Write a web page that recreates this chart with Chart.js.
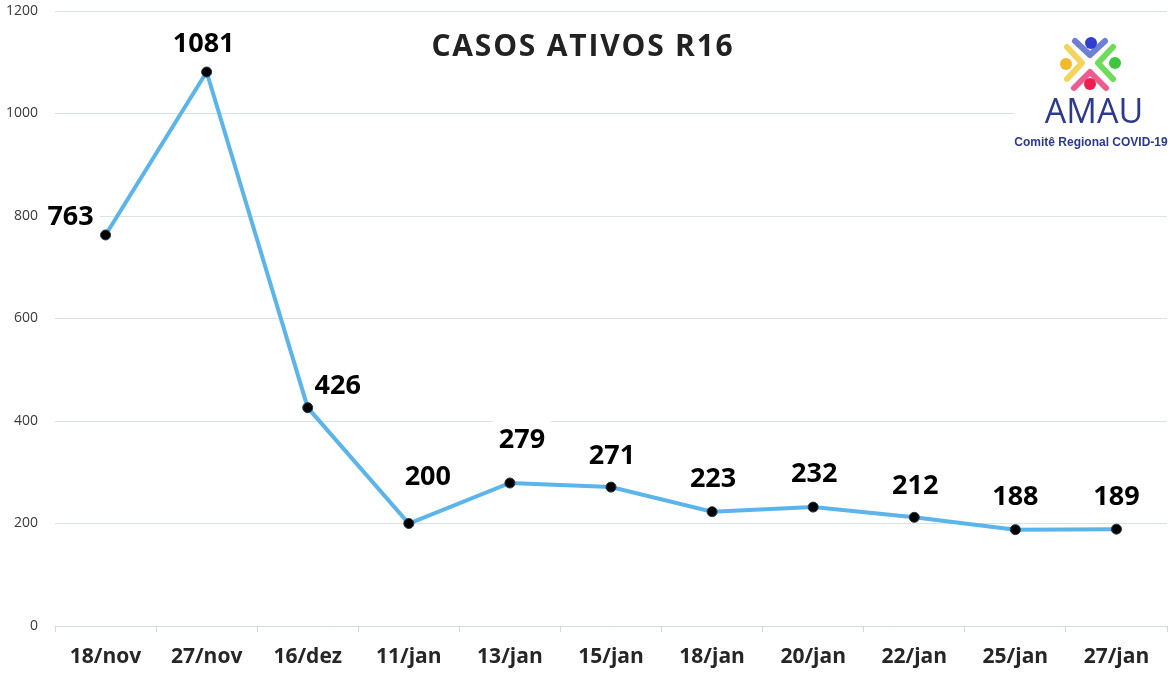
<!DOCTYPE html>
<html>
<head>
<meta charset="utf-8">
<script src="https://cdn.jsdelivr.net/npm/chart.js@4"></script>
<style>
  html, body { margin: 0; padding: 0; background: #fff; }
  #wrap { width: 1176px; height: 676px; }
</style>
</head>
<body>
<div id="wrap"><canvas id="myChart" width="1176" height="676"></canvas></div>
<script>
'use strict';

// data
var categories = ['18/nov', '27/nov', '16/dez', '11/jan', '13/jan', '15/jan', '18/jan', '20/jan', '22/jan', '25/jan', '27/jan'];
var activeCases = [763, 1081, 426, 200, 279, 271, 223, 232, 212, 188, 189];
var yTicks = [0, 200, 400, 600, 800, 1000, 1200];

// where each value label sits relative to its point (dx, dy in px)
var labelOffsets = [
  [-35, -18], [-3, -28], [30, -21], [19, -46], [12, -43], [1, -31],
  [1, -32], [1, -33], [1, -31], [0, -32], [0, -32]
];

var FONT = '"Open Sans", "DejaVu Sans", sans-serif';

// white boxes behind labels (they hide the gridlines like in excel)
var labelBoxes = {
  id: 'labelBoxes',
  beforeDatasetsDraw: function(chart) {
    var ctx = chart.ctx;
    var meta = chart.getDatasetMeta(0);
    ctx.save();
    ctx.font = 'bold 27px ' + FONT;
    ctx.fillStyle = '#ffffff';
    meta.data.forEach(function(pt, i) {
      var x = pt.x + labelOffsets[i][0];
      var y = pt.y + labelOffsets[i][1];
      var w = ctx.measureText(String(activeCases[i])).width;
      ctx.fillRect(x - w / 2 - 6, y - 20, w + 12, 40);
    });
    ctx.restore();
  }
};

// value labels, title and logo
var overlay = {
  id: 'overlay',
  afterDraw: function(chart) {
    var ctx = chart.ctx;
    var meta = chart.getDatasetMeta(0);
    ctx.save();
    ctx.textAlign = 'center';
    ctx.textBaseline = 'middle';
    ctx.font = 'bold 27px ' + FONT;
    ctx.fillStyle = '#000000';
    meta.data.forEach(function(pt, i) {
      ctx.fillText(String(activeCases[i]), pt.x + labelOffsets[i][0], pt.y + labelOffsets[i][1]);
    });

    // title
    ctx.font = 'bold 30px ' + FONT;
    ctx.letterSpacing = '1.8px';
    ctx.fillStyle = '#222222';
    ctx.fillText('CASOS ATIVOS R16', 583, 47);
    ctx.letterSpacing = '0px';

    // logo
    ctx.fillStyle = '#ffffff';
    ctx.fillRect(1014, 28, 162, 125);
    drawLogo(ctx);
    ctx.restore();
  }
};

function chevron(ctx, pts, color) {
  ctx.strokeStyle = color;
  ctx.lineWidth = 6;
  ctx.lineCap = 'round';
  ctx.lineJoin = 'round';
  ctx.beginPath();
  ctx.moveTo(pts[0], pts[1]);
  ctx.lineTo(pts[2], pts[3]);
  ctx.lineTo(pts[4], pts[5]);
  ctx.stroke();
}

function dot(ctx, x, y, r, color) {
  ctx.fillStyle = color;
  ctx.beginPath();
  ctx.arc(x, y, r, 0, Math.PI * 2);
  ctx.fill();
}

function drawLogo(ctx) {
  chevron(ctx, [1075, 41, 1090, 55, 1105, 41], '#6f7fd6');
  chevron(ctx, [1113, 47, 1098, 63, 1113, 79], '#6edc5a');
  chevron(ctx, [1074, 88, 1090, 72, 1106, 88], '#ee5b8e');
  chevron(ctx, [1067, 47, 1082, 63, 1067, 79], '#f4d45a');
  dot(ctx, 1091, 43, 6, '#2f3fd0');
  dot(ctx, 1115, 63, 6, '#3cc83c');
  dot(ctx, 1090, 84, 6, '#ec1f4f');
  dot(ctx, 1066, 64, 6, '#f3b92c');

  ctx.textAlign = 'center';
  ctx.textBaseline = 'alphabetic';
  ctx.fillStyle = '#2b3990';
  ctx.font = '34px ' + FONT;
  ctx.fillText('AMAU', 1094, 123);
  ctx.font = 'bold 12px "Liberation Sans", Arial, sans-serif';
  ctx.fillText('Comitê Regional COVID-19', 1091, 146);
}

function makeChart() {
  var ctx = document.getElementById('myChart').getContext('2d');
  return new Chart(ctx, {
    type: 'line',
    data: {
      labels: categories,
      datasets: [{
        label: 'Casos ativos',
        data: activeCases,
        borderColor: '#5bb4ea',
        borderWidth: 4,
        tension: 0,
        pointRadius: 5,
        pointBackgroundColor: '#000000',
        pointBorderColor: '#1f3a4a',
        pointBorderWidth: 1,
        fill: false
      }]
    },
    options: {
      responsive: false,
      animation: false,
      devicePixelRatio: 1,
      layout: { padding: { top: 11, right: 9, left: 0, bottom: 0 } },
      plugins: {
        legend: { display: false },
        tooltip: { enabled: false }
      },
      scales: {
        x: {
          offset: true,
          grid: {
            offset: true,
            drawOnChartArea: false,
            drawTicks: true,
            tickLength: 6,
            color: '#cfd9d9'
          },
          border: { display: true, color: '#cfd9d9', width: 1 },
          ticks: {
            padding: 12,
            color: '#262626',
            font: { family: FONT, size: 21, weight: 'bold' },
            maxRotation: 0
          },
          afterFit: function(scale) { scale.height = 50; }
        },
        y: {
          min: 0,
          max: 1200,
          afterBuildTicks: function(scale) {
            scale.ticks = yTicks.map(function(v) { return { value: v }; });
          },
          grid: { drawTicks: false, color: '#dbe4e4', lineWidth: 1 },
          border: { display: false },
          ticks: {
            padding: 17,
            color: '#3a3a3a',
            font: { family: FONT, size: 14 },
            callback: function(v) { return String(v); }
          },
          afterFit: function(scale) {
            scale.width = 55;
            scale.paddingTop = 0;
            scale.paddingBottom = 0;
          }
        }
      }
    },
    plugins: [labelBoxes, overlay]
  });
}

makeChart();
</script>
</body>
</html>
